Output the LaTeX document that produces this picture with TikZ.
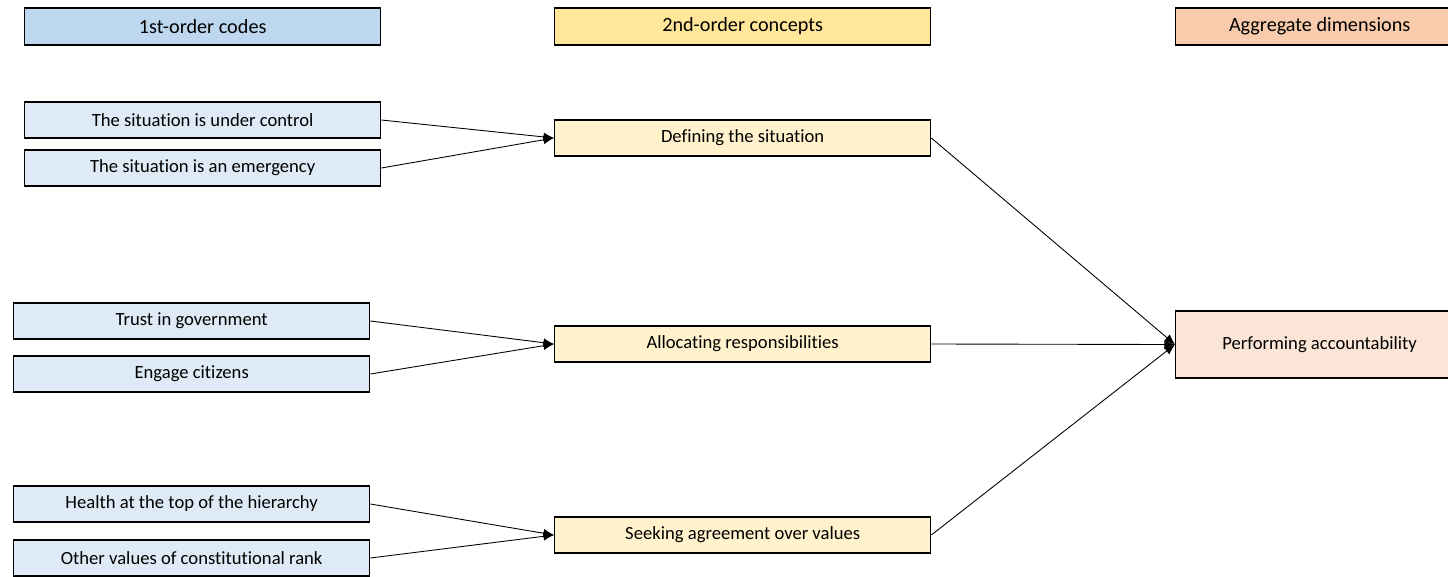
\documentclass[tikz,border=0pt]{standalone}
\usepackage{fontspec}
\setmainfont{Carlito}[Ligatures=NoCommon]
\usepackage{tikz}
\definecolor{codehead}{RGB}{189, 215, 238}
\definecolor{codefill}{RGB}{222, 235, 247}
\definecolor{conchead}{RGB}{255, 230, 153}
\definecolor{concfill}{RGB}{255, 242, 204}
\definecolor{dimhead}{RGB}{248, 203, 173}
\definecolor{dimfill}{RGB}{251, 229, 214}
\usetikzlibrary{arrows.meta}
\tikzset{
  gbox/.style = {draw=black, line width=0.8pt, inner sep=0pt, anchor=west,
    align=center, font=\fontsize{10.6}{12}\selectfont},
  head/.style = {gbox, minimum height=0.74cm, font=\fontsize{11.5}{13}\selectfont},
  code_h/.style = {head, fill=codehead, minimum width=7.12cm},% column head, codes
  code_n/.style = {gbox, fill=codefill, minimum width=7.12cm, minimum height=0.72cm},% first order code
  conc_h/.style = {head, fill=conchead, minimum width=7.52cm},% column head, concepts
  conc_n/.style = {gbox, fill=concfill, minimum width=7.52cm, minimum height=0.72cm},% second order concept
  dim_h/.style = {head, fill=dimhead, minimum width=5.76cm},% column head, dimensions
  dim_n/.style = {gbox, fill=dimfill, minimum width=5.76cm, minimum height=1.34cm},% aggregate dimension
}

\begin{document}
\begin{tikzpicture}[->,>={Latex[length=6pt,width=5pt]}, x=0.02cm, y=-0.02cm, line width=0.5pt]
\clip (0,0) rectangle (1448,576);
% column heads
\node [code_h] (hcode) at (24,26.5) {1st-order codes};
\node [conc_h] (hconc) at (554,26.5) {2nd-order concepts};
\node [dim_h] (hdim) at (1175,26.5) {Aggregate dimensions};
% 1st-order codes
\node [code_n] (ctrl) at (24,120) {The situation is under control};
\node [code_n] (emerg) at (24,168) {The situation is an emergency};
\node [code_n] (trust) at (13,321) {Trust in government};
\node [code_n] (engage) at (13,374) {Engage citizens};
\node [code_n] (health) at (13,504) {Health at the top of the hierarchy};
\node [code_n] (rank) at (13,558) {Other values of constitutional rank};
% 2nd-order concepts
\node [conc_n] (defin) at (554,138) {Defining the situation};
\node [conc_n] (alloc) at (554,344) {Allocating responsibilities};
\node [conc_n] (seek) at (554,535) {Seeking agreement over values};
% aggregate dimension
\node [dim_n] (perf) at (1175,344.5) {Performing accountability};

\draw (ctrl.east) -- (defin.west);
\draw (emerg.east) -- (defin.west);
\draw (trust.east) -- (alloc.west);
\draw (engage.east) -- (alloc.west);
\draw (health.east) -- (seek.west);
\draw (rank.east) -- (seek.west);

\draw (defin.east) -- (perf.west);
\draw (alloc.east) -- (perf.west);
\draw (seek.east) -- (perf.west);
\end{tikzpicture}
\end{document}
